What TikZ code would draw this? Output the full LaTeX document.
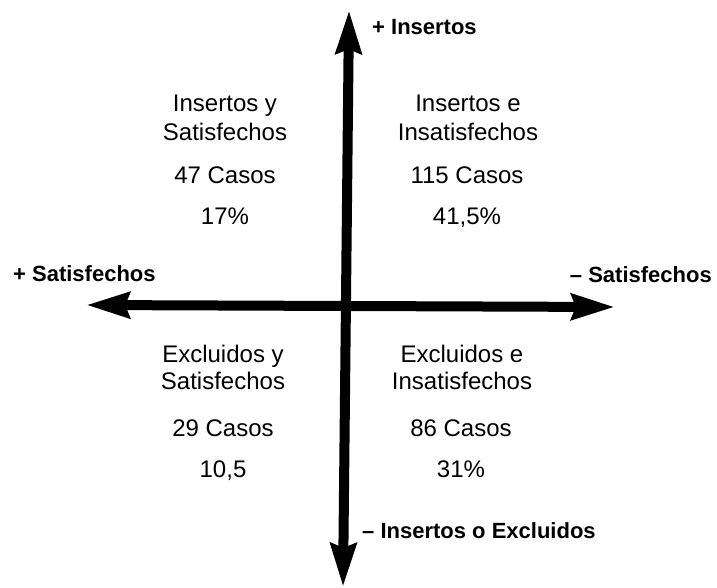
\documentclass[tikz,border=0pt]{standalone}
\usepackage{fontspec}
\setmainfont{Liberation Sans}
\usetikzlibrary{arrows.meta}
\tikzset{
  cell/.style={inner sep=0pt, anchor=base, font=\fontsize{24}{29}\selectfont},
  axislabel/.style={inner sep=0pt, font=\fontsize{22}{26}\selectfont\bfseries},
  axis/.style={line width=10pt, draw=black,
    {Stealth[length=43pt 0 0, width=25pt 0 0, inset=4pt 0]}-{Stealth[length=43pt 0 0, width=25pt 0 0, inset=4pt 0]}}
}
\begin{document}
\begin{tikzpicture}[x=1pt,y=-1pt]
\useasboundingbox (0,0) rectangle (717,588);
% axis end points
\coordinate (top) at (349,10);
\coordinate (bottom) at (343,587);
\coordinate (left) at (86,305);
\coordinate (right) at (615,307);
\draw[axis] (left) -- (right);
\draw[axis] (top) -- (bottom);
% axis labels
\node[axislabel, anchor=base west] (lpi) at (372,35) {+ Insertos};
\node[axislabel, anchor=base west] (lps) at (13,281) {+ Satisfechos};
\node[axislabel, anchor=base east] (lms) at (712,282) {– Satisfechos};
\node[axislabel, anchor=base west] (lmi) at (362,538) {– Insertos o Excluidos};
% top-left
\node[cell] (tl1) at (225,112) {Insertos y};
\node[cell] (tl2) at (225,141) {Satisfechos};
\node[cell] (tl3) at (225,183) {47 Casos};
\node[cell] (tl4) at (225,224) {17\%};
% top-right
\node[cell] (tr1) at (468,112) {Insertos e};
\node[cell] (tr2) at (468,141) {Insatisfechos};
\node[cell] (tr3) at (467,183) {115 Casos};
\node[cell] (tr4) at (467,224) {41,5\%};
% bottom-left
\node[cell] (bl1) at (223,362) {Excluidos y};
\node[cell] (bl2) at (223,389) {Satisfechos};
\node[cell] (bl3) at (223,436) {29 Casos};
\node[cell] (bl4) at (223,477) {10,5};
% bottom-right
\node[cell] (br1) at (462,362) {Excluidos e};
\node[cell] (br2) at (462,389) {Insatisfechos};
\node[cell] (br3) at (461,436) {86 Casos};
\node[cell] (br4) at (461,477) {31\%};
\end{tikzpicture}
\end{document}
